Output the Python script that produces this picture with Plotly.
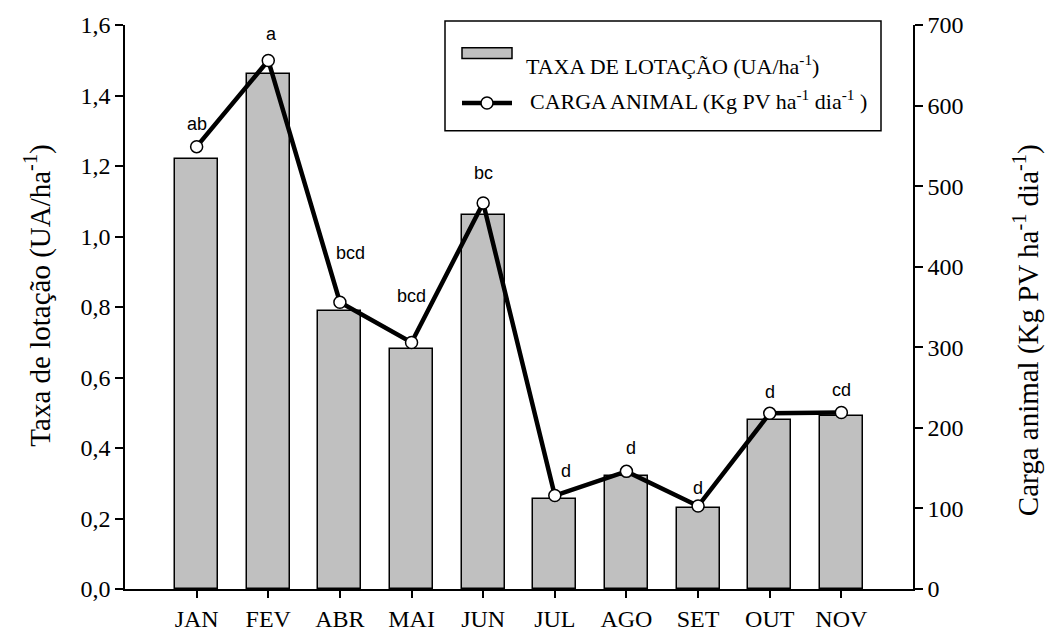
import plotly.graph_objects as go

# Monthly data
months = ["JAN", "FEV", "ABR", "MAI", "JUN", "JUL", "AGO", "SET", "OUT", "NOV"]
taxa_lotacao = [1.22, 1.46, 0.79, 0.68, 1.06, 0.255, 0.32, 0.23, 0.48, 0.49]   # UA/ha
carga_animal = [549, 656, 356, 306, 479, 116, 146, 103, 218, 219]             # kg PV/ha/dia
letras = ["ab", "a", "bcd", "bcd", "bc", "d", "d", "d", "d", "cd"]

left_ticks = [0.0, 0.2, 0.4, 0.6, 0.8, 1.0, 1.2, 1.4, 1.6]
left_tick_text = ["0,0", "0,2", "0,4", "0,6", "0,8", "1,0", "1,2", "1,4", "1,6"]
right_ticks = [0, 100, 200, 300, 400, 500, 600, 700]

# Plot frame in pixels
W, H = 1050, 644
PX_L, PX_R, PX_T, PX_B = 125, 913, 21, 592
Y2_MAX = 700

def px(xp):
    return (xp - PX_L) / (PX_R - PX_L)

def py(yp):
    return (PX_B - yp) / (PX_B - PX_T)

SERIF = "Liberation Serif, Times New Roman, serif"
SANS = "Liberation Sans, Arial, sans-serif"
GRAY = "#c0c0c0"

xpos = list(range(len(months)))

fig = go.Figure()
fig.add_trace(go.Bar(
    x=xpos, y=taxa_lotacao, width=0.6,
    marker=dict(color=GRAY, line=dict(color="black", width=1.5)),
    showlegend=False,
))
fig.add_trace(go.Scatter(
    x=xpos, y=carga_animal, yaxis="y2", mode="lines+markers",
    line=dict(color="black", width=4.5),
    marker=dict(size=12, color="white", line=dict(color="black", width=1.5)),
    showlegend=False,
))

# Significance letters above each point (label nudges in pixels / category units)
letra_dpx = [23, 27, 50, 47, 30, 25, 24, 18, 22, 23]
letra_dx = [0, 0.05, 0.15, 0, 0, 0.16, 0.07, 0, 0, 0]
units_per_px = Y2_MAX / (PX_B - PX_T)
annotations = []
for i, (lab, val) in enumerate(zip(letras, carga_animal)):
    annotations.append(dict(
        x=i + letra_dx[i], y=val + letra_dpx[i] * units_per_px,
        xref="x", yref="y2", text=lab, showarrow=False,
        font=dict(family=SANS, size=18, color="black"),
        xanchor="center", yanchor="middle",
    ))

# Axis titles
annotations.append(dict(
    x=px(38), y=py(295), xref="paper", yref="paper", textangle=-90,
    text="Taxa de lotação (UA/ha<sup>-1</sup>)", showarrow=False,
    font=dict(family=SERIF, size=29, color="black"),
    xanchor="center", yanchor="middle",
))
annotations.append(dict(
    x=px(1026), y=py(330), xref="paper", yref="paper", textangle=-90,
    text="Carga animal (Kg PV ha<sup>-1</sup> dia<sup>-1</sup>)", showarrow=False,
    font=dict(family=SERIF, size=29, color="black"),
    xanchor="center", yanchor="middle",
))

# Legend
annotations.append(dict(
    x=px(524), y=py(62), xref="paper", yref="paper",
    text="TAXA DE LOTAÇÃO (UA/ha<sup>-1</sup>)", showarrow=False,
    font=dict(family=SERIF, size=22, color="black"),
    xanchor="left", yanchor="middle",
))
annotations.append(dict(
    x=px(528), y=py(97), xref="paper", yref="paper",
    text="CARGA ANIMAL (Kg PV ha<sup>-1</sup> dia<sup>-1</sup> )", showarrow=False,
    font=dict(family=SERIF, size=22, color="black"),
    xanchor="left", yanchor="middle",
))

shapes = [
    dict(type="rect", xref="paper", yref="paper",
         x0=px(445), x1=px(881), y0=py(17), y1=py(128),
         line=dict(color="black", width=1.5), fillcolor="white", layer="above"),
    dict(type="rect", xref="paper", yref="paper",
         x0=px(462), x1=px(512), y0=py(44), y1=py(55),
         line=dict(color="black", width=1.5), fillcolor=GRAY, layer="above"),
    dict(type="line", xref="paper", yref="paper",
         x0=px(462), x1=px(512), y0=py(100), y1=py(100),
         line=dict(color="black", width=4.5), layer="above"),
    dict(type="circle", xref="paper", yref="paper",
         x0=px(481), x1=px(493), y0=py(94), y1=py(106),
         line=dict(color="black", width=1.5), fillcolor="white", layer="above"),
]

axis_common = dict(
    showline=True, linecolor="black", linewidth=1.5,
    ticks="outside", tickcolor="black", tickwidth=1.5,
    showgrid=False, zeroline=False,
)

fig.update_layout(
    width=W, height=H,
    margin=dict(l=PX_L, r=W - PX_R, t=PX_T, b=H - PX_B),
    paper_bgcolor="white", plot_bgcolor="white",
    bargap=0,
    xaxis=dict(
        range=[-1, len(months)], tickmode="array", tickvals=xpos, ticktext=months,
        ticklen=7, tickfont=dict(family=SERIF, size=24, color="black"),
        **axis_common,
    ),
    yaxis=dict(
        range=[0, 1.6], tickmode="array", tickvals=left_ticks, ticktext=left_tick_text,
        ticklen=8, tickfont=dict(family=SERIF, size=24, color="black"),
        **axis_common,
    ),
    yaxis2=dict(
        range=[0, Y2_MAX], overlaying="y", side="right", tickmode="array",
        tickvals=right_ticks, ticklen=8,
        tickfont=dict(family=SERIF, size=24, color="black"),
        **axis_common,
    ),
    annotations=annotations,
    shapes=shapes,
)

fig.write_html("out.html")
